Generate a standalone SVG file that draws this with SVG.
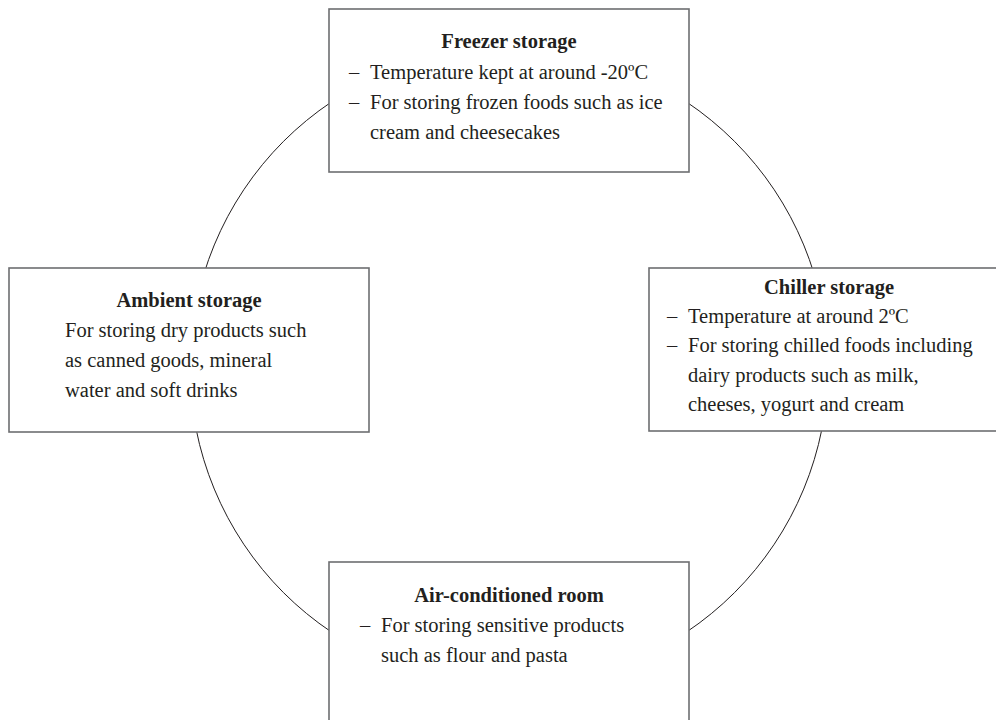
<svg xmlns="http://www.w3.org/2000/svg" width="996" height="720" viewBox="0 0 996 720">
  <style>
    .box { fill: #ffffff; stroke: #6d6e71; stroke-width: 1.6; }
    .ring { fill: none; stroke: #231f20; stroke-width: 1; }
    text { font-family: "Liberation Serif", "Times New Roman", serif; font-size: 20.5px; fill: #231f20; }
    .title { font-weight: bold; text-anchor: middle; }
  </style>
  <rect width="996" height="720" fill="#ffffff"/>

  <!-- cycle ring linking the four storage areas -->
  <g id="connectors">
    <circle class="ring" cx="509" cy="367" r="319"/>
  </g>

  <g id="freezer">
    <rect class="box" x="329" y="9" width="360" height="163"/>
    <text class="title" x="509" y="48">Freezer storage</text>
    <text x="349" y="79">–</text>
    <text x="370" y="79">Temperature kept at around -20ºC</text>
    <text x="349" y="109">–</text>
    <text x="370" y="109">For storing frozen foods such as ice</text>
    <text x="370" y="139">cream and cheesecakes</text>
  </g>

  <g id="ambient">
    <rect class="box" x="9" y="268" width="360" height="164"/>
    <text class="title" x="189" y="307">Ambient storage</text>
    <text x="65" y="337">For storing dry products such</text>
    <text x="65" y="367">as canned goods, mineral</text>
    <text x="65" y="397">water and soft drinks</text>
  </g>

  <g id="chiller">
    <rect class="box" x="649" y="268" width="360" height="163"/>
    <text class="title" x="829" y="294">Chiller storage</text>
    <text x="667" y="323">–</text>
    <text x="688" y="323">Temperature at around 2ºC</text>
    <text x="667" y="352">–</text>
    <text x="688" y="352">For storing chilled foods including</text>
    <text x="688" y="382">dairy products such as milk,</text>
    <text x="688" y="411">cheeses, yogurt and cream</text>
  </g>

  <g id="air-conditioned">
    <rect class="box" x="329" y="562" width="360" height="170"/>
    <text class="title" x="509" y="602">Air-conditioned room</text>
    <text x="360" y="632">–</text>
    <text x="381" y="632">For storing sensitive products</text>
    <text x="381" y="662">such as flour and pasta</text>
  </g>
</svg>
